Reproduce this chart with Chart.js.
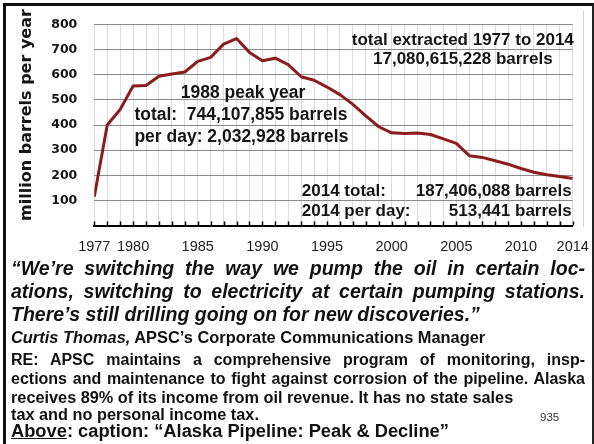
<!DOCTYPE html>
<html>
<head>
<meta charset="utf-8">
<title>Alaska Pipeline: Peak &amp; Decline</title>
<script src="https://cdn.jsdelivr.net/npm/chart.js@4.4.1/dist/chart.umd.min.js"></script>
<style>
  html, body { margin: 0; padding: 0; background: #fff; }
  body { width: 594px; height: 444px; position: relative; overflow: hidden;
         font-family: 'Liberation Sans', Arial, sans-serif; color: #111; }
  #frame { position: absolute; left: 3px; top: 3px; width: 586px; height: 470px;
           border-left: 3px solid #111; border-top: 3px solid #111; border-right: 2px solid #222; }
  #edge { position: absolute; left: 583px; top: 11px; width: 1px; height: 216px; background: #d2d2d2; }
  #chart { position: absolute; left: 0; top: 0; }
  .row { position: absolute; left: 11px; width: 574px; white-space: nowrap; }
  .just { text-align: justify; text-align-last: justify; white-space: normal; }
  .quote { font-weight: bold; font-style: italic; font-size: 19.5px; line-height: 23.3px; }
  .text { font-weight: bold; font-size: 16px; line-height: 17.9px; }
  .wide { font-size: 16.3px; line-height: 18.2px; }
  .who { font-weight: bold; font-size: 16.4px; line-height: 18.3px; }
  .cap { font-weight: bold; font-size: 18.3px; line-height: 20.4px; }
  .page { position: absolute; left: 540px; top: 411px; font-size: 11.5px; line-height: 13px; color: #333; }
</style>
</head>
<body>
<div id="frame"></div>
<div id="edge"></div>
<canvas id="chart" width="594" height="258"></canvas>

<div class="row quote just" style="top:256.6px">“We’re switching the way we pump the oil in certain loc-</div>
<div class="row quote just" style="top:279.9px">ations, switching to electricity at certain pumping stations.</div>
<div class="row quote" style="top:303.3px">There’s still drilling going on for new discoveries.”</div>
<div class="row who" style="top:327.7px"><i>Curtis Thomas,</i> APSC’s Corporate Communications Manager</div>
<div class="row text just" style="top:350.5px">RE: APSC maintains a comprehensive program of monitoring, insp-</div>
<div class="row text just" style="top:369.5px">ections and maintenance to fight against corrosion of the pipeline. Alaska</div>
<div class="row text wide" style="top:387.8px">receives 89% of its income from oil revenue. It has no state sales</div>
<div class="row text wide" style="top:405.3px">tax and no personal income tax.</div>
<div class="page">935</div>
<div class="row cap" style="top:420.9px"><u>Above</u>: caption: “Alaska Pipeline: Peak &amp; Decline”</div>

<script>
// yearly throughput, million barrels
const years = [1977, 1978, 1979, 1980, 1981, 1982, 1983, 1984, 1985, 1986,
               1987, 1988, 1989, 1990, 1991, 1992, 1993, 1994, 1995, 1996,
               1997, 1998, 1999, 2000, 2001, 2002, 2003, 2004, 2005, 2006,
               2007, 2008, 2009, 2010, 2011, 2012, 2013, 2014];
const production = [114, 400, 462, 555, 557, 594, 603, 611, 653, 669,
                    722, 744, 689, 656, 666, 640, 592, 578, 551, 521,
                    482, 436, 393, 369, 366, 368, 362, 345, 327, 278,
                    271, 258, 244, 227, 212, 202, 195, 187];
const labelYears = [1977, 1980, 1985, 1990, 1995, 2000, 2005, 2010, 2014];
const yTicks = [100, 200, 300, 400, 500, 600, 700, 800];

const ink = '#151515';
const sans = '"Liberation Sans", Arial, sans-serif';

const notes = {
    id: 'notes',
    afterDraw(chart) {
        const { ctx, chartArea: area, scales: { x, y } } = chart;
        ctx.save();

        // short tick marks pointing up from the baseline
        ctx.strokeStyle = '#000';
        ctx.lineWidth = 1.5;
        x.ticks.forEach(t => {
            const px = Math.round(x.getPixelForValue(t.value)) + 0.5;
            ctx.beginPath();
            ctx.moveTo(px, area.bottom);
            ctx.lineTo(px, area.bottom - 4);
            ctx.stroke();
        });

        // axis title
        ctx.fillStyle = ink;
        ctx.font = 'bold 16px "DejaVu Sans", Verdana, sans-serif';
        ctx.textAlign = 'center';
        ctx.textBaseline = 'alphabetic';
        ctx.save();
        ctx.translate(31, 115);
        ctx.rotate(-Math.PI / 2);
        ctx.fillText('million barrels per year', 0, 0);
        ctx.restore();

        // totals
        ctx.font = 'bold 17px ' + sans;
        ctx.textAlign = 'center';
        const cx = x.getPixelForValue(2005.5);
        ctx.fillText('total extracted 1977 to 2014', cx, y.getPixelForValue(720));
        ctx.fillText('17,080,615,228 barrels', cx, y.getPixelForValue(641));

        ctx.font = 'bold 17.5px ' + sans;
        ctx.fillText('1988 peak year', x.getPixelForValue(1988.5), y.getPixelForValue(507));
        ctx.textAlign = 'left';
        const lx = x.getPixelForValue(1980.1);
        ctx.fillText('total:  744,107,855 barrels', lx, y.getPixelForValue(420));
        ctx.fillText('per day: 2,032,928 barrels', lx, y.getPixelForValue(333));

        ctx.font = 'bold 17px ' + sans;
        const bx = x.getPixelForValue(1993.05);
        const rx = x.getPixelForValue(2014) - 1;
        const r1 = y.getPixelForValue(116);
        const r2 = y.getPixelForValue(37);
        ctx.fillText('2014 total:', bx, r1);
        ctx.fillText('2014 per day:', bx, r2);
        ctx.textAlign = 'right';
        ctx.fillText('187,406,088 barrels', rx, r1);
        ctx.fillText('513,441 barrels', rx, r2);

        ctx.restore();
    }
};

new Chart(document.getElementById('chart'), {
    type: 'line',
    data: {
        datasets: [{
            data: years.map((yr, i) => ({ x: yr, y: production[i] })),
            borderColor: '#8c1d1d',
            borderWidth: 3,
            borderJoinStyle: 'round',
            pointRadius: 0,
            tension: 0,
            fill: false
        }]
    },
    options: {
        responsive: false,
        animation: false,
        layout: { padding: { top: 22.3, right: 21.3, left: 0, bottom: 0 } },
        plugins: { legend: { display: false }, tooltip: { enabled: false } },
        scales: {
            x: {
                type: 'linear',
                min: years[0],
                max: years[years.length - 1],
                afterFit: scale => {
                    scale.height = 32.5;
                    // edge labels may hang past the plot; the page padding covers them
                    scale.paddingLeft = 0;
                    scale.paddingRight = 0;
                },
                grid: { color: '#dcdcdc', lineWidth: 1, drawTicks: false },
                border: { display: true, color: '#000', width: 2 },
                ticks: {
                    stepSize: 1,
                    autoSkip: false,
                    maxRotation: 0,
                    padding: 12.8,
                    color: '#222',
                    font: { family: sans, size: 14.5 },
                    callback: v => labelYears.includes(v) ? String(v) : ''
                }
            },
            y: {
                min: 0,
                max: yTicks[yTicks.length - 1],
                afterFit: scale => { scale.width = 94.3; },
                grid: { color: '#8c8c8c', lineWidth: 1, drawTicks: false },
                border: { display: false },
                ticks: {
                    stepSize: 100,
                    padding: 17,
                    color: ink,
                    font: { family: '"DejaVu Sans", Verdana, sans-serif', size: 12.5, weight: 'bold' },
                    callback: v => yTicks.includes(v) ? String(v) : ''
                }
            }
        }
    },
    plugins: [notes]
});
</script>
</body>
</html>
